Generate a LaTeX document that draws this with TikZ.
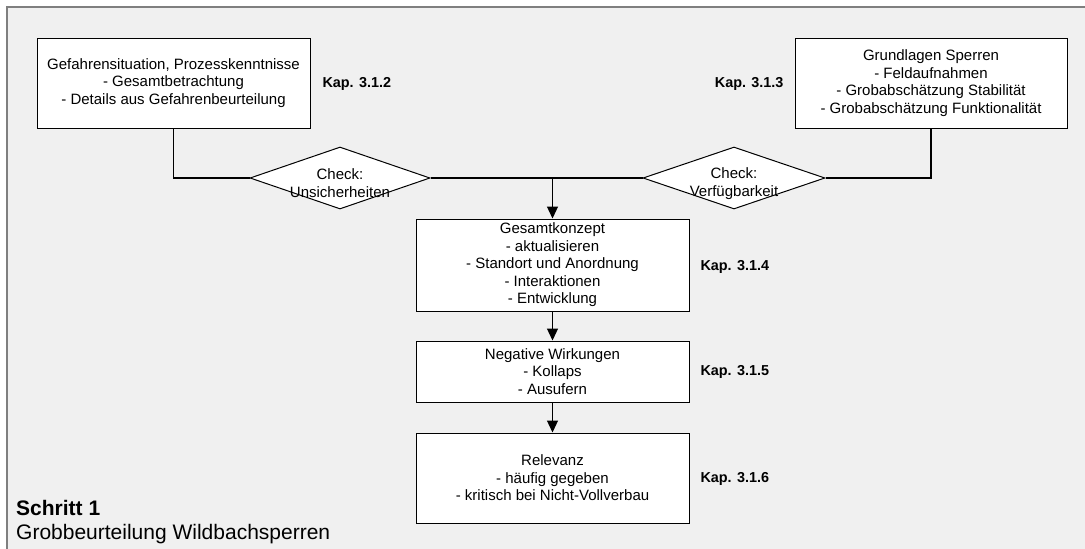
\documentclass[tikz,border=0pt]{standalone}
\usepackage{fontspec}
\setmainfont{Liberation Sans}
\usetikzlibrary{shapes.geometric, arrows.meta}
\usepackage{xcolor}

\definecolor{panelgray}{HTML}{F0F0F0}
\definecolor{framegray}{HTML}{7F7F7F}

\begin{document}
\begin{tikzpicture}[
  x=1pt, y=-1pt,
  box/.style={rectangle, draw, fill=white, line width=1pt, minimum width=273pt,
              align=center, inner sep=2pt,
              execute at begin node={\rule{0pt}{18pt}},
              font=\fontsize{15}{17.5}\selectfont},
  check/.style={diamond, draw, fill=white, line width=1pt, inner sep=0pt,
                minimum width=180pt, minimum height=62pt},
  checktext/.style={align=center, font=\fontsize{15}{18}\selectfont},
  kap/.style={font=\bfseries\fontsize{14.4}{17}\selectfont},
  link/.style={line width=1.2pt},
  arrow/.style={-{Triangle[length=12pt, width=11pt]}, line width=1.2pt},
]
  \useasboundingbox (0,0) rectangle (1085,549);
  % panel, runs off the page at right and bottom
  \draw[framegray, line width=2pt, fill=panelgray] (7,7) rectangle (1100,570);

  \node[box, minimum height=90pt] (gefahr) at (173.5,83)
    {Gefahrensituation, Prozesskenntnisse\\- Gesamtbetrachtung\\- Details aus Gefahrenbeurteilung};
  \node[box, minimum width=272pt, minimum height=90pt] (sperren) at (931,83)
    {Grundlagen Sperren\\- Feldaufnahmen\\- Grobabschätzung Stabilität\\- Grobabschätzung Funktionalität};

  \node[check] (unsicher) at (340,178) {};
  \node[checktext] at (340,183.5) {Check:\\Unsicherheiten};
  \node[check, minimum width=182pt] (verfueg) at (734,178) {};
  \node[checktext] at (734,183.5) {Check:\\Verfügbarkeit};

  \node[box, minimum height=92pt] (konzept) at (552.5,265)
    {Gesamtkonzept\\- aktualisieren\\- Standort und Anordnung\\- Interaktionen\\- Entwicklung};
  \node[box, minimum height=61pt] (negativ) at (552.5,371.5)
    {Negative Wirkungen\\- Kollaps\\- Ausufern};
  \node[box, minimum height=90pt] (relevanz) at (552.5,478)
    {Relevanz\\- häufig gegeben\\- kritisch bei Nicht-Vollverbau};

  \node[kap, anchor=west] (kap2) at (319,84)  {Kap. 3.1.2};
  \node[kap, anchor=east] (kap3) at (787,84)  {Kap. 3.1.3};
  \node[kap, anchor=west] (kap4) at (697,267) {Kap. 3.1.4};
  \node[kap, anchor=west] (kap5) at (697,372) {Kap. 3.1.5};
  \node[kap, anchor=west] (kap6) at (697,479) {Kap. 3.1.6};

  \node[anchor=north west, align=left, inner sep=0pt,
        font=\fontsize{21}{24}\selectfont] (schritt) at (16,500)
    {\textbf{Schritt 1}\\Grobbeurteilung Wildbachsperren};

  % connectors
  \draw[link] (gefahr.south) |- (unsicher.west);
  \draw[link] (sperren.south) |- (verfueg.east);
  \draw[link] (unsicher.east) -- (verfueg.west);
  \draw[arrow] (konzept.north |- unsicher.east) -- (konzept.north);
  \draw[arrow] (konzept) -- (negativ);
  \draw[arrow] (negativ) -- (relevanz);
\end{tikzpicture}
\end{document}
